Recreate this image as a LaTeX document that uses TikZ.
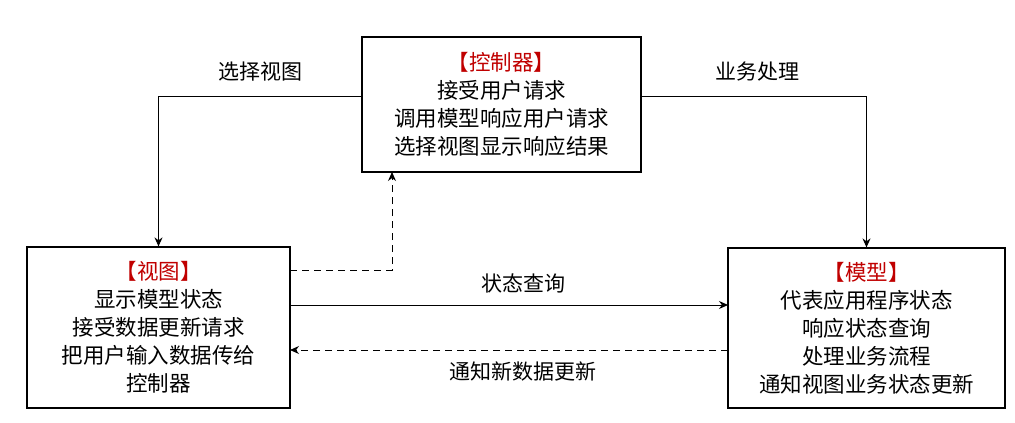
\documentclass[tikz,border=0pt]{standalone}
\usepackage{fontspec}
\setmainfont{Noto Sans CJK SC}
\usetikzlibrary{arrows.meta}
\definecolor{tred}{RGB}{192,0,0}
\begin{document}
\begin{tikzpicture}[x=1pt,y=-1pt,
  box/.style={draw,line width=1.2pt,align=center,font=\fontsize{21.5}{28}\selectfont,inner sep=0pt},
  lab/.style={font=\fontsize{21}{24}\selectfont},
  arr/.style={line width=1pt,-{Stealth[length=9pt,width=8pt]}},
  darr/.style={arr,dash pattern=on 7pt off 5pt}]
\useasboundingbox (0,0) rectangle (1015,423);
\node[box,minimum width=279pt,minimum height=135pt] (c) at (501.5,104.5) {\textcolor{tred}{【控制器】}\\接受用户请求\\调用模型响应用户请求\\选择视图显示响应结果};
\node[box,minimum width=263pt,minimum height=161pt] (v) at (158.5,327.5) {\textcolor{tred}{【视图】}\\显示模型状态\\接受数据更新请求\\把用户输入数据传给\\控制器};
\node[box,minimum width=277pt,minimum height=160pt] (m) at (866.5,328) {\textcolor{tred}{【模型】}\\代表应用程序状态\\响应状态查询\\处理业务流程\\通知视图业务状态更新};
\coordinate (c1) at (362,96); \coordinate (c2) at (641,96);
\draw[arr] (c1) -| (v.north);
\draw[arr] (c2) -| (m.north);
\coordinate (v1) at (290,270);
\draw[darr] (v1) -| (392,172);
\draw[arr] (290,305) -- (728,305);
\draw[darr] (728,350) -- (290,350);
\node[lab] (l1) at (260,72) {选择视图};
\node[lab] (l2) at (757,72) {业务处理};
\node[lab] (l3) at (523,283) {状态查询};
\node[lab] (l4) at (523,372) {通知新数据更新};
\end{tikzpicture}
\end{document}
